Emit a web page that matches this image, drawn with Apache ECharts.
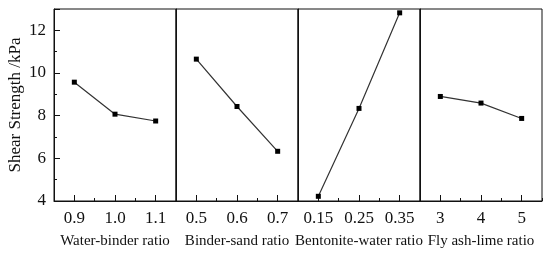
<!DOCTYPE html>
<html>
<head>
<meta charset="utf-8">
<script src="https://cdn.jsdelivr.net/npm/echarts@6/dist/echarts.min.js"></script>
<style>
  html, body { margin: 0; padding: 0; background: #fff; }
  #chart { width: 550px; height: 256px; }
</style>
</head>
<body>
<div id="chart"></div>
<script>
// factor names and their levels
var factorNames = ['Water-binder ratio', 'Binder-sand ratio', 'Bentonite-water ratio', 'Fly ash-lime ratio'];
var waterBinderLevels = [0.9, 1.0, 1.1];
var waterBinderLabels = ['0.9', '1.0', '1.1'];
var binderSandLevels = [0.5, 0.6, 0.7];
var binderSandLabels = ['0.5', '0.6', '0.7'];
var bentoniteLevels = [0.15, 0.25, 0.35];
var bentoniteLabels = ['0.15', '0.25', '0.35'];
var flyAshLevels = [3, 4, 5];
var flyAshLabels = ['3', '4', '5'];

// shear strength (kPa)
var waterBinderStrength = [9.57, 8.07, 7.75];
var binderSandStrength = [10.65, 8.43, 6.33];
var bentoniteStrength = [4.22, 8.34, 12.82];
var flyAshStrength = [8.90, 8.59, 7.87];

var panels = [
    { levels: waterBinderLevels, labels: waterBinderLabels, values: waterBinderStrength },
    { levels: binderSandLevels, labels: binderSandLabels, values: binderSandStrength },
    { levels: bentoniteLevels, labels: bentoniteLabels, values: bentoniteStrength },
    { levels: flyAshLevels, labels: flyAshLabels, values: flyAshStrength }
];

var font = 'Liberation Serif';
var chart = echarts.init(document.getElementById('chart'));

var grids = [], xAxes = [], yAxes = [], series = [];
var left0 = 54, panelW = 122;

panels.forEach(function (p, k) {
    var step = p.levels[1] - p.levels[0];
    var xmin = p.levels[0] - step / 2;
    var xmax = p.levels[2] + step / 2;
    var minors = [xmin, p.levels[0] + step / 2, p.levels[1] + step / 2, xmax];

    grids.push({
        left: left0 + k * panelW, top: 9, width: panelW, height: 192,
        show: true, borderColor: '#111', borderWidth: 1
    });

    // main x axis: major ticks, labels and name
    xAxes.push({
        type: 'value', gridIndex: k, position: 'bottom',
        min: xmin, max: xmax,
        name: factorNames[k], nameLocation: 'middle', nameGap: 33,
        nameTextStyle: { fontFamily: font, fontSize: 15, color: '#111' },
        axisLine: { show: true, lineStyle: { color: '#111', width: 1 } },
        axisTick: { show: true, inside: true, length: 6, customValues: p.levels,
                    lineStyle: { color: '#111' } },
        axisLabel: {
            customValues: p.levels, margin: 9,
            fontFamily: font, fontSize: 17, color: '#111',
            formatter: function (v) {
                for (var i = 0; i < p.levels.length; i++) {
                    if (Math.abs(p.levels[i] - v) < 1e-6) return p.labels[i];
                }
                return '';
            }
        },
        splitLine: { show: false }
    });
    // second x axis for the minor ticks
    xAxes.push({
        type: 'value', gridIndex: k, position: 'bottom',
        min: xmin, max: xmax,
        axisLine: { show: false },
        axisTick: { show: true, inside: true, length: 3, customValues: minors,
                    lineStyle: { color: '#111' } },
        axisLabel: { show: false },
        splitLine: { show: false }
    });

    yAxes.push({
        type: 'value', gridIndex: k, min: 4, max: 13, interval: 2,
        name: k === 0 ? 'Shear Strength /kPa' : '',
        nameLocation: 'middle', nameGap: 30,
        nameTextStyle: { fontFamily: font, fontSize: 17, color: '#111' },
        axisLine: { show: true, lineStyle: { color: '#111', width: 1 } },
        axisTick: { show: k === 0, inside: true, length: 6, lineStyle: { color: '#111' } },
        minorTick: { show: k === 0, splitNumber: 2, length: 3, lineStyle: { color: '#111' } },
        axisLabel: {
            show: k === 0, showMaxLabel: false, margin: 8,
            fontFamily: font, fontSize: 17, color: '#111'
        },
        splitLine: { show: false }
    });

    series.push({
        type: 'line',
        xAxisIndex: 2 * k, yAxisIndex: k,
        data: p.levels.map(function (x, i) { return [x, p.values[i]]; }),
        symbol: 'rect', symbolSize: 5,
        itemStyle: { color: '#000' },
        lineStyle: { color: '#333', width: 1.2 },
        animation: false
    });
});

chart.setOption({
    backgroundColor: '#fff',
    animation: false,
    grid: grids,
    xAxis: xAxes,
    yAxis: yAxes,
    series: series
});
</script>
</body>
</html>
